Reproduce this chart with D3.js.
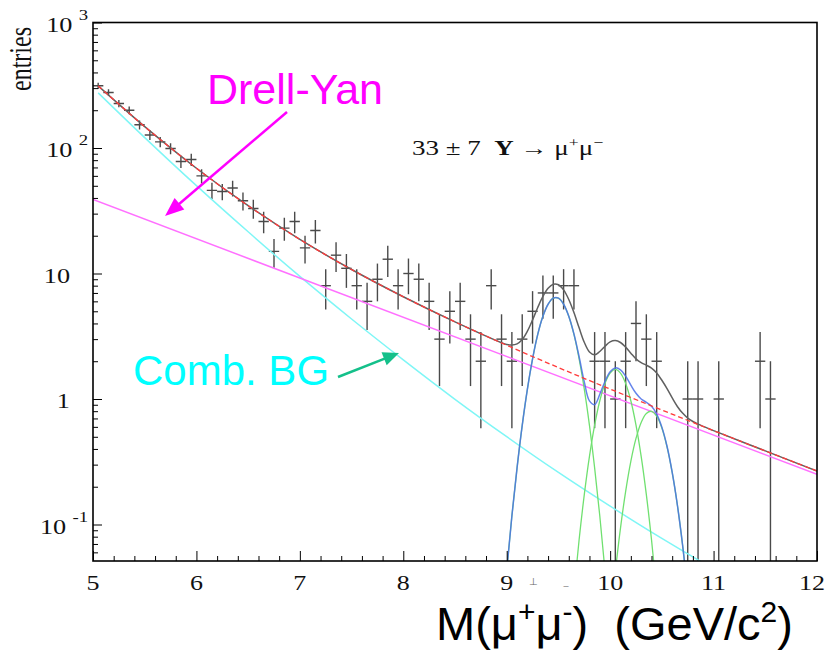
<!DOCTYPE html>
<html>
<head>
<meta charset="utf-8">
<script src="https://cdn.jsdelivr.net/npm/d3@7"></script>
<style>
  body { margin: 0; background: #fff; }
  text { white-space: pre; }
</style>
</head>
<body>
<svg id="chart" width="828" height="650"></svg>
<script>
// ---- Dimuon invariant-mass histogram (0.1 GeV bins, non-empty bins only)
const binCenter = [5.05, 5.15, 5.25, 5.35, 5.45, 5.55, 5.65, 5.75, 5.85, 5.95,
                   6.05, 6.15, 6.25, 6.35, 6.45, 6.55, 6.65, 6.75, 6.85, 6.95,
                   7.05, 7.15, 7.25, 7.35, 7.45, 7.55, 7.65, 7.75, 7.85, 7.95,
                   8.05, 8.15, 8.25, 8.35, 8.45, 8.55, 8.65, 8.75, 8.85, 8.95,
                   9.05, 9.15, 9.25, 9.35, 9.45, 9.55, 9.65, 9.85, 9.95,
                   10.05, 10.15, 10.25, 10.35, 10.45, 10.75, 10.85, 11.05, 11.45, 11.55];
const binCount  = [313, 277, 226, 200, 153, 127, 112, 99, 78, 81,
                   60, 46, 45, 48, 38, 33, 26, 15, 23, 26,
                   16, 22, 8, 14, 11, 8, 6, 9, 13, 8,
                   10, 9, 6, 3, 5, 6, 3, 2, 8, 3,
                   2, 3, 5, 7, 7, 8, 8, 2, 2,
                   1, 2, 4, 3, 2, 1, 1, 1, 2, 1];
const binWidth = 0.1;

// ---- Background components
const bkgMass   = [5.05, 5.5, 6.0, 6.5, 7.0, 7.5, 8.0, 8.5, 9.0, 9.5, 10.0, 10.5, 11.0, 11.5, 12.0];
const combBG    = [275, 121, 50.1, 21.5, 9.48, 4.34, 2.05, 0.995, 0.501, 0.260, 0.140, 0.0774, 0.0443, 0.0262, 0.0160];
const bkgTotal  = [312.5, 148, 69.0, 34.7, 18.7, 10.76, 6.53, 4.12, 2.68, 1.78, 1.20, 0.817, 0.560, 0.386, 0.267];
const drellYanMass = [5.0, 12.0];
const drellYan     = [38.9, 0.251];

// ---- Full fit (background + Upsilon states)
const fitMass  = [5.05, 5.5, 6.0, 6.5, 7.0, 7.5, 8.0, 8.5,
                  8.95, 9.00, 9.05, 9.10, 9.15, 9.20, 9.25, 9.30, 9.35, 9.40,
                  9.45, 9.50, 9.55, 9.60, 9.65, 9.70, 9.75, 9.80, 9.85, 9.90,
                  9.95, 10.00, 10.05, 10.10, 10.15, 10.20, 10.25, 10.30, 10.35, 10.40,
                  10.45, 10.50, 10.55, 10.60, 10.65, 10.70, 10.75, 10.80, 10.85,
                  11.0, 11.5, 12.0];
const fitTotal = [312.5, 148, 69.0, 34.7, 18.7, 10.76, 6.53, 4.12,
                  2.81, 2.72, 2.69, 2.75, 2.98, 3.47, 4.27, 5.36, 6.57, 7.62,
                  8.21, 8.14, 7.40, 6.21, 4.88, 3.69, 2.83, 2.37, 2.25, 2.39,
                  2.63, 2.85, 2.92, 2.82, 2.59, 2.32, 2.09, 1.95, 1.86, 1.76,
                  1.61, 1.41, 1.21, 1.02, 0.872, 0.772, 0.705, 0.662, 0.630,
                  0.560, 0.386, 0.267];

// ---- Upsilon signal: sum of the three states and each state alone
const peakMass = [8.95, 9.00, 9.05, 9.10, 9.15, 9.20, 9.25, 9.30, 9.35, 9.40,
                  9.45, 9.50, 9.55, 9.60, 9.65, 9.70, 9.75, 9.80, 9.85, 9.90,
                  9.95, 10.00, 10.05, 10.10, 10.15, 10.20, 10.25, 10.30, 10.35, 10.40,
                  10.45, 10.50, 10.55, 10.60, 10.65, 10.70, 10.75, 10.80, 10.85];
const signalSum = [0.0141, 0.0429, 0.117, 0.283, 0.617, 1.20, 2.09, 3.27, 4.56, 5.69,
                   6.36, 6.36, 5.69, 4.57, 3.30, 2.17, 1.37, 0.966, 0.903, 1.09,
                   1.38, 1.65, 1.77, 1.71, 1.52, 1.29, 1.11, 1.00, 0.941, 0.874,
                   0.759, 0.597, 0.420, 0.260, 0.143, 0.069, 0.029, 0.011, 0.0035];
const ups1Mass = [8.95, 9.00, 9.05, 9.10, 9.15, 9.20, 9.25, 9.30, 9.35, 9.40, 9.45, 9.50,
                  9.55, 9.60, 9.65, 9.70, 9.75, 9.80, 9.85, 9.90, 9.95, 10.00, 10.05];
const ups1     = [0.0141, 0.0429, 0.117, 0.283, 0.617, 1.20, 2.09, 3.27, 4.56, 5.69, 6.36, 6.36,
                  5.69, 4.56, 3.27, 2.09, 1.20, 0.617, 0.283, 0.117, 0.0429, 0.0141, 0.0042];
const ups2Mass = [9.60, 9.65, 9.70, 9.75, 9.80, 9.85, 9.90, 9.95, 10.00, 10.05,
                  10.10, 10.15, 10.20, 10.25, 10.30, 10.35, 10.40, 10.45, 10.50];
const ups2     = [0.0098, 0.029, 0.0756, 0.173, 0.349, 0.620, 0.969, 1.33, 1.61, 1.72,
                  1.61, 1.33, 0.969, 0.620, 0.349, 0.173, 0.0756, 0.029, 0.0098];
const ups3Mass = [9.95, 10.00, 10.05, 10.10, 10.15, 10.20, 10.25, 10.30, 10.35, 10.40,
                  10.45, 10.50, 10.55, 10.60, 10.65, 10.70, 10.75, 10.80, 10.85];
const ups3     = [0.0057, 0.0165, 0.0419, 0.0936, 0.184, 0.319, 0.485, 0.651, 0.768, 0.798,
                  0.730, 0.588, 0.416, 0.260, 0.143, 0.069, 0.029, 0.011, 0.0035];

// ---- Axis ticks
const xMajorTicks = [5, 6, 7, 8, 9, 10, 11, 12];
const yMajorTicks = [0.1, 1, 10, 100, 1000];
const yTickBase   = ["10", "1", "10", "10", "10"];
const yTickExp    = ["-1", "", "", "2", "3"];

// ---------------------------------------------------------------------------
const svg = d3.select("#chart");
const frameL = 93, frameR = 817, frameT = 22.5, frameB = 561;
const x = d3.scaleLinear().domain([5, 12]).range([frameL, frameR]);
const y = d3.scaleLog().domain([0.0512, 1000]).range([frameB, frameT]);
const serif = "'Liberation Serif', 'Times New Roman', serif";
const sans = "'Liberation Sans', Arial, sans-serif";

svg.append("rect").attr("width", 828).attr("height", 650).attr("fill", "#fff");

svg.append("defs").append("clipPath").attr("id", "plotArea")
  .append("rect").attr("x", frameL).attr("y", frameT)
  .attr("width", frameR - frameL).attr("height", frameB - frameT);

const plot = svg.append("g").attr("clip-path", "url(#plotArea)");

// data points with statistical errors
const pts = plot.append("g").attr("stroke", "#4a4a4a").attr("stroke-width", 1.4);
binCenter.forEach((c, i) => {
  const n = binCount[i], e = Math.sqrt(n);
  const lo = n - e > 0 ? n - e : y.domain()[0] / 2;
  pts.append("line")
    .attr("x1", x(c - binWidth / 2)).attr("x2", x(c + binWidth / 2))
    .attr("y1", y(n)).attr("y2", y(n));
  pts.append("line")
    .attr("x1", x(c)).attr("x2", x(c))
    .attr("y1", y(n + e)).attr("y2", y(lo));
});

function curvePath(xs, vs) {
  return d3.line()
    .x((d, i) => x(xs[i]))
    .y(d => y(d))
    .curve(d3.curveCatmullRom.alpha(0.5))(vs);
}
function drawCurve(xs, vs, color, width, extra) {
  const p = plot.append("path")
    .attr("d", curvePath(xs, vs))
    .attr("fill", "none")
    .attr("stroke", color)
    .attr("stroke-width", width);
  if (extra) extra(p);
  return p;
}

drawCurve(bkgMass, combBG, "#7ff6f6", 1.5);
drawCurve(drellYanMass, drellYan, "#ff70ff", 1.5);
drawCurve(ups1Mass, ups1, "#70e070", 1.3);
drawCurve(ups2Mass, ups2, "#70e070", 1.3);
drawCurve(ups3Mass, ups3, "#70e070", 1.3);
drawCurve(peakMass, signalSum, "#4a6ee8", 1.5, p => p.attr("stroke-opacity", 0.85));
drawCurve(fitMass, fitTotal, "#606060", 1.5);
drawCurve(bkgMass, bkgTotal, "#ff3b3b", 1.3, p => p.attr("stroke-dasharray", "5,3"));

// frame
svg.append("rect")
  .attr("x", frameL).attr("y", frameT)
  .attr("width", frameR - frameL).attr("height", frameB - frameT)
  .attr("fill", "none").attr("stroke", "#000").attr("stroke-width", 1.6);

// x ticks
const xMinor = d3.range(5, 12.0001, 0.2).filter(v => Math.abs(v - Math.round(v)) > 1e-6);
const xAxisMinor = svg.append("g").attr("transform", `translate(0,${frameB})`)
  .call(d3.axisBottom(x).tickValues(xMinor).tickSize(-5).tickFormat(""));
const xAxisMajor = svg.append("g").attr("transform", `translate(0,${frameB})`)
  .call(d3.axisBottom(x).tickValues(xMajorTicks).tickSize(-10).tickFormat(""));

// y ticks
const yMinor = [];
yMajorTicks.forEach(d => { for (let k = 2; k <= 9; k++) yMinor.push(d * k / 10); });
const yMinorIn = yMinor.filter(v => v >= y.domain()[0] && v <= 1000);
const yAxisMinor = svg.append("g").attr("transform", `translate(${frameL},0)`)
  .call(d3.axisLeft(y).tickValues(yMinorIn).tickSize(-5).tickFormat(""));
const yAxisMajor = svg.append("g").attr("transform", `translate(${frameL},0)`)
  .call(d3.axisLeft(y).tickValues(yMajorTicks).tickSize(-9).tickFormat(""));
[xAxisMinor, xAxisMajor, yAxisMinor, yAxisMajor].forEach(g => {
  g.select(".domain").remove();
  g.selectAll(".tick line").attr("stroke", "#000").attr("stroke-width", 1);
});

// x tick labels (the last one is kept inside the canvas)
svg.append("g").selectAll("text").data(xMajorTicks).join("text")
  .attr("transform", d => `translate(${Math.min(x(d), 812)},590) scale(1.3,1)`)
  .attr("text-anchor", "middle")
  .attr("font-family", serif).attr("font-size", 20).attr("fill", "#111")
  .text(d => d);

// y tick labels (powers of ten)
yMajorTicks.forEach((v, i) => {
  const hasExp = yTickExp[i] !== "";
  const t = svg.append("text")
    .attr("transform", `translate(${hasExp ? 88 : 70},${y(v) + 9}) scale(1.25,1)`)
    .attr("text-anchor", "end")
    .attr("font-family", serif).attr("font-size", 21).attr("fill", "#111");
  t.append("tspan").text(yTickBase[i]);
  if (hasExp) {
    t.append("tspan").attr("dx", 5).attr("dy", -12).attr("font-size", 15).text(yTickExp[i]);
  }
});

// small marks below the mass axis
svg.append("text").attr("x", 533).attr("y", 585).attr("text-anchor", "middle")
  .attr("font-family", serif).attr("font-size", 10).attr("fill", "#666").text("⊥");
svg.append("text").attr("x", 566).attr("y", 589).attr("text-anchor", "middle")
  .attr("font-family", serif).attr("font-size", 10).attr("fill", "#666").text("–");

// y axis title
svg.append("text")
  .attr("transform", "translate(31,27) scale(1.3,1) rotate(-90)")
  .attr("text-anchor", "end")
  .attr("font-family", serif).attr("font-size", 24).attr("fill", "#111")
  .text("entries");

// signal yield
const yieldText = svg.append("text")
  .attr("transform", "translate(412,155) scale(1.35,1)")
  .attr("font-family", serif).attr("font-size", 20).attr("fill", "#111");
yieldText.append("tspan").text("33 ± 7  ");
yieldText.append("tspan").attr("font-weight", "bold").text("Υ");
yieldText.append("tspan").text(" → μ");
yieldText.append("tspan").attr("dy", -8).attr("font-size", 13).text("+");
yieldText.append("tspan").attr("dy", 8).text("μ");
yieldText.append("tspan").attr("dy", -8).attr("font-size", 13).text("−");

// x axis title
const xTitle = svg.append("text")
  .attr("x", 436).attr("y", 640)
  .attr("font-family", sans).attr("font-size", 47).attr("fill", "#000");
xTitle.append("tspan").text("M(μ");
xTitle.append("tspan").attr("dy", -18).attr("font-size", 30).text("+");
xTitle.append("tspan").attr("dy", 18).text("μ");
xTitle.append("tspan").attr("dy", -18).attr("font-size", 30).text("-");
xTitle.append("tspan").attr("dy", 18).text(")  (GeV/c");
xTitle.append("tspan").attr("dy", -18).attr("font-size", 30).text("2");
xTitle.append("tspan").attr("dy", 18).text(")");

// component annotations
function arrow(x1, y1, x2, y2, color, headLen, headHalf) {
  const dx = x2 - x1, dy = y2 - y1, len = Math.hypot(dx, dy);
  const ux = dx / len, uy = dy / len;
  const bx = x2 - ux * headLen, by = y2 - uy * headLen;
  svg.append("line").attr("x1", x1).attr("y1", y1).attr("x2", bx + ux * 2).attr("y2", by + uy * 2)
    .attr("stroke", color).attr("stroke-width", 2.5);
  svg.append("polygon")
    .attr("points", [[x2, y2], [bx - uy * headHalf, by + ux * headHalf], [bx + uy * headHalf, by - ux * headHalf]]
      .map(p => p.join(",")).join(" "))
    .attr("fill", color);
}

svg.append("text").attr("x", 207).attr("y", 104)
  .attr("font-family", sans).attr("font-size", 43).attr("fill", "#ff00ff")
  .text("Drell-Yan");
arrow(287, 112, 165, 216, "#ff00ff", 19, 7.5);

svg.append("text").attr("x", 133).attr("y", 385)
  .attr("font-family", sans).attr("font-size", 42).attr("fill", "#00ffff")
  .text("Comb. BG");
arrow(338, 377, 399, 353, "#14c08a", 16, 7);
</script>
</body>
</html>
